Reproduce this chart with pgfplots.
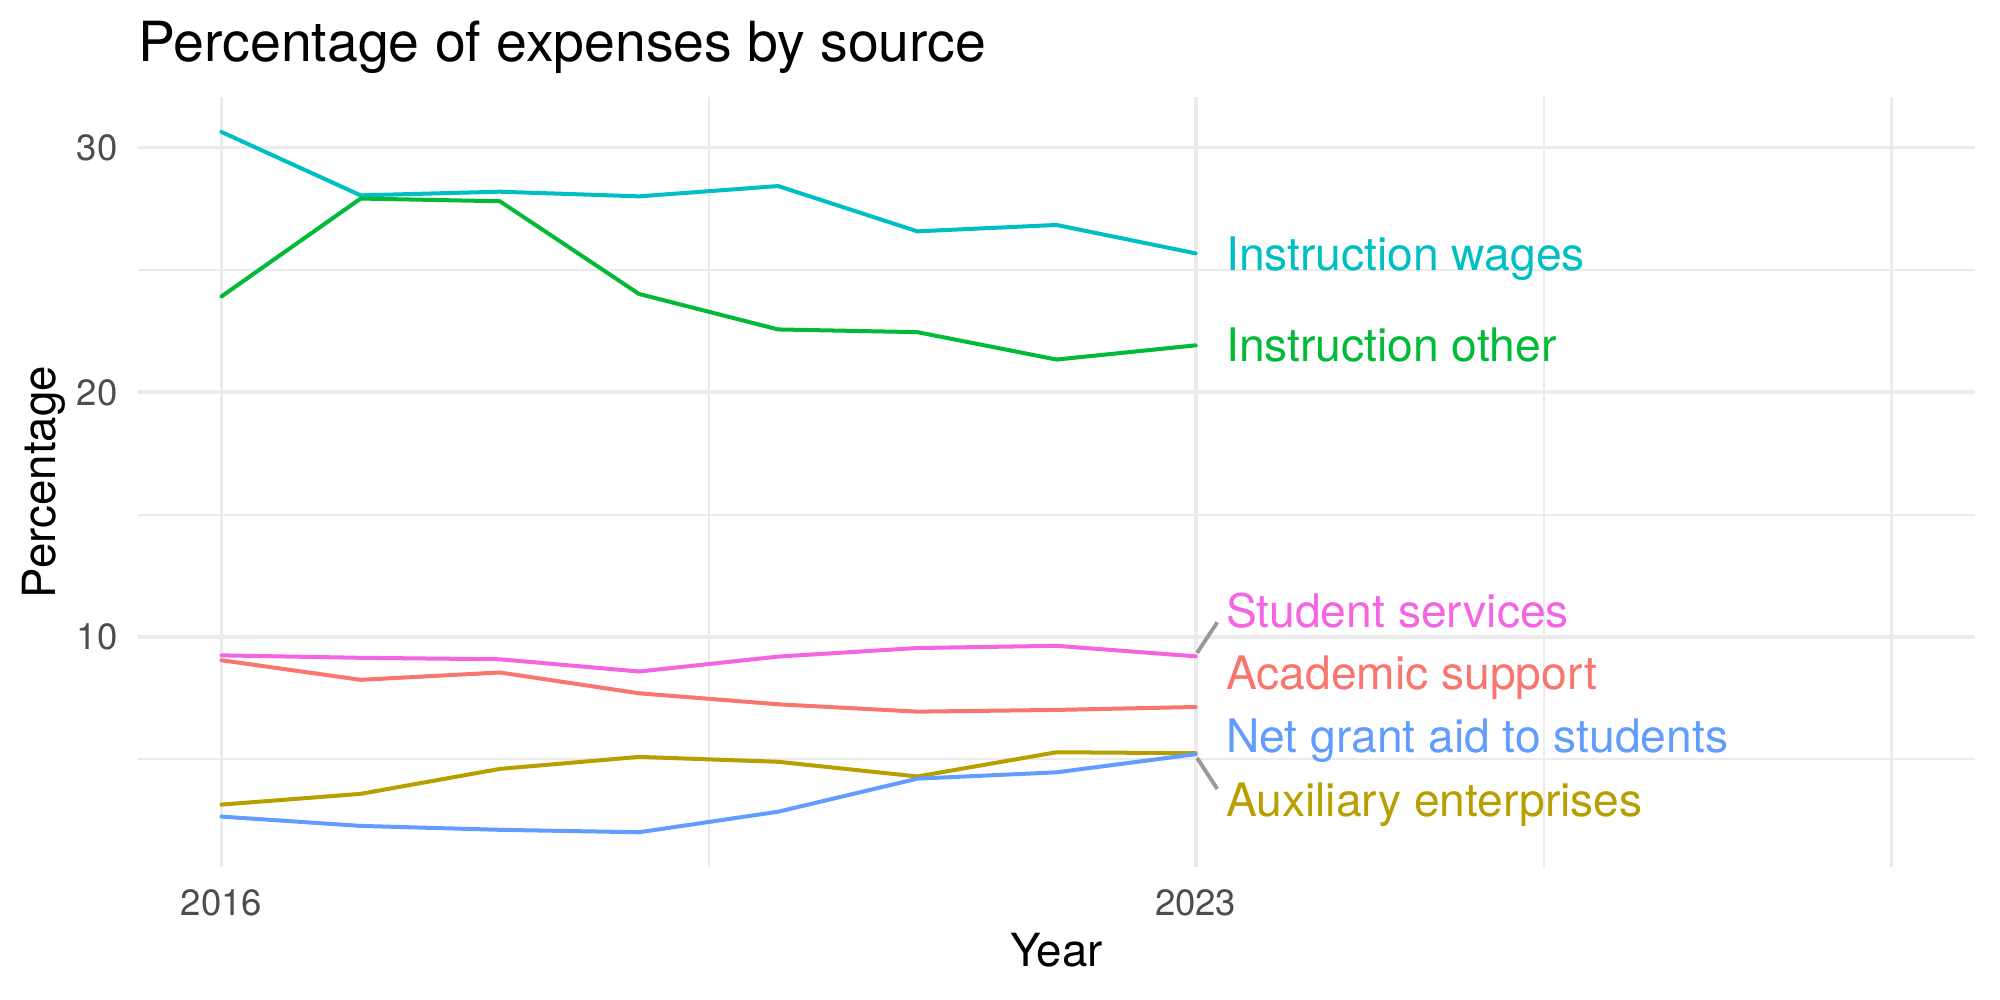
\documentclass[border=0pt]{standalone}
\usepackage{fontspec}
\setmainfont{TeX Gyre Heros}
\usepackage{pgfplots}
\pgfplotsset{compat=1.18}

\definecolor{cAcad}{HTML}{F8766D}
\definecolor{cAux}{HTML}{B79F00}
\definecolor{cInstO}{HTML}{00BA38}
\definecolor{cInstW}{HTML}{00BFC4}
\definecolor{cGrant}{HTML}{619CFF}
\definecolor{cStud}{HTML}{F564E3}
\definecolor{gridc}{HTML}{EBEBEB}
\definecolor{tickc}{HTML}{4D4D4D}
\definecolor{segc}{HTML}{999999}

\newcommand{\fs}[1]{\fontsize{#1}{#1}\selectfont}

\begin{document}
\begin{tikzpicture}[x=1pt,y=1pt]
\useasboundingbox (0,0) rectangle (722.7,-361.35);

\begin{axis}[
  at={(49.87pt,-313.29pt)}, anchor=south west,
  scale only axis, width=663.8pt, height=278.24pt,
  xmin=2015.4, xmax=2028.6, ymin=0.6, ymax=32.07,
  axis line style={draw=none},
  major tick length=0pt, minor tick length=0pt,
  xtick={2016,2023,2028}, xticklabels={2016,2023,{}},
  minor xtick={2019.5,2025.5},
  ytick={10,20,30}, yticklabels={10,20,30},
  minor ytick={5,15,25},
  grid=both,
  major grid style={draw=gridc, line width=1.33pt},
  minor grid style={draw=gridc, line width=0.67pt},
  xticklabel style={anchor=north, inner sep=0pt, yshift=-8pt, font=\fs{13.2}, text=tickc},
  yticklabel style={anchor=east, inner sep=0pt, xshift=-7.2pt, font=\fs{13.2}, text=tickc},
  clip=false,
  every axis plot/.append style={line width=1.45pt, line join=round, line cap=round, mark=none},
]
% Instruction wages
\addplot[cInstW] coordinates {(2016,30.64) (2017,28.05) (2018,28.20) (2019,28.01) (2020,28.43) (2021,26.58) (2022,26.84) (2023,25.68)};
% Instruction other
\addplot[cInstO] coordinates {(2016,23.92) (2017,27.92) (2018,27.81) (2019,24.02) (2020,22.57) (2021,22.46) (2022,21.34) (2023,21.92)};
% Student services
\addplot[cStud] coordinates {(2016,9.25) (2017,9.15) (2018,9.09) (2019,8.59) (2020,9.20) (2021,9.55) (2022,9.64) (2023,9.21)};
% Academic support
\addplot[cAcad] coordinates {(2016,9.05) (2017,8.25) (2018,8.55) (2019,7.70) (2020,7.25) (2021,6.95) (2022,7.02) (2023,7.14)};
% Auxiliary enterprises
\addplot[cAux] coordinates {(2016,3.15) (2017,3.59) (2018,4.61) (2019,5.10) (2020,4.90) (2021,4.30) (2022,5.29) (2023,5.25)};
% Net grant aid to students
\addplot[cGrant] coordinates {(2016,2.66) (2017,2.28) (2018,2.12) (2019,2.02) (2020,2.86) (2021,4.21) (2022,4.47) (2023,5.21)};

% leader segments for the repelled labels
\draw[segc, line width=1.4pt] (axis cs:2023.01,9.35) -- (axis cs:2023.155,10.60);
\draw[segc, line width=1.4pt] (axis cs:2023.01,5.06) -- (axis cs:2023.155,3.79);

% end-of-line labels
\begin{scope}[every node/.style={anchor=base west, inner sep=0pt, font=\fs{16.7}}]
\node[text=cInstW] at (axis cs:2023.215,24.99) {Instruction wages};
\node[text=cInstO] at (axis cs:2023.215,21.24) {Instruction other};
\node[text=cStud]  at (axis cs:2023.215,10.37) {Student services};
\node[text=cAcad]  at (axis cs:2023.215,7.85) {Academic support};
\node[text=cGrant] at (axis cs:2023.215,5.26) {Net grant aid to students};
\node[text=cAux]   at (axis cs:2023.215,2.67) {Auxiliary enterprises};
\end{scope}
\end{axis}

% titles
\node[anchor=base west, inner sep=0pt, font=\fs{20}] at (49.87,-22.3) {Percentage of expenses by source};
\node[anchor=base, inner sep=0pt, font=\fs{16.5}] at (381.77,-349.3) {Year};
\node[anchor=base, inner sep=0pt, rotate=90, font=\fs{16.5}] at (20.2,-174.2) {Percentage};
\end{tikzpicture}
\end{document}
